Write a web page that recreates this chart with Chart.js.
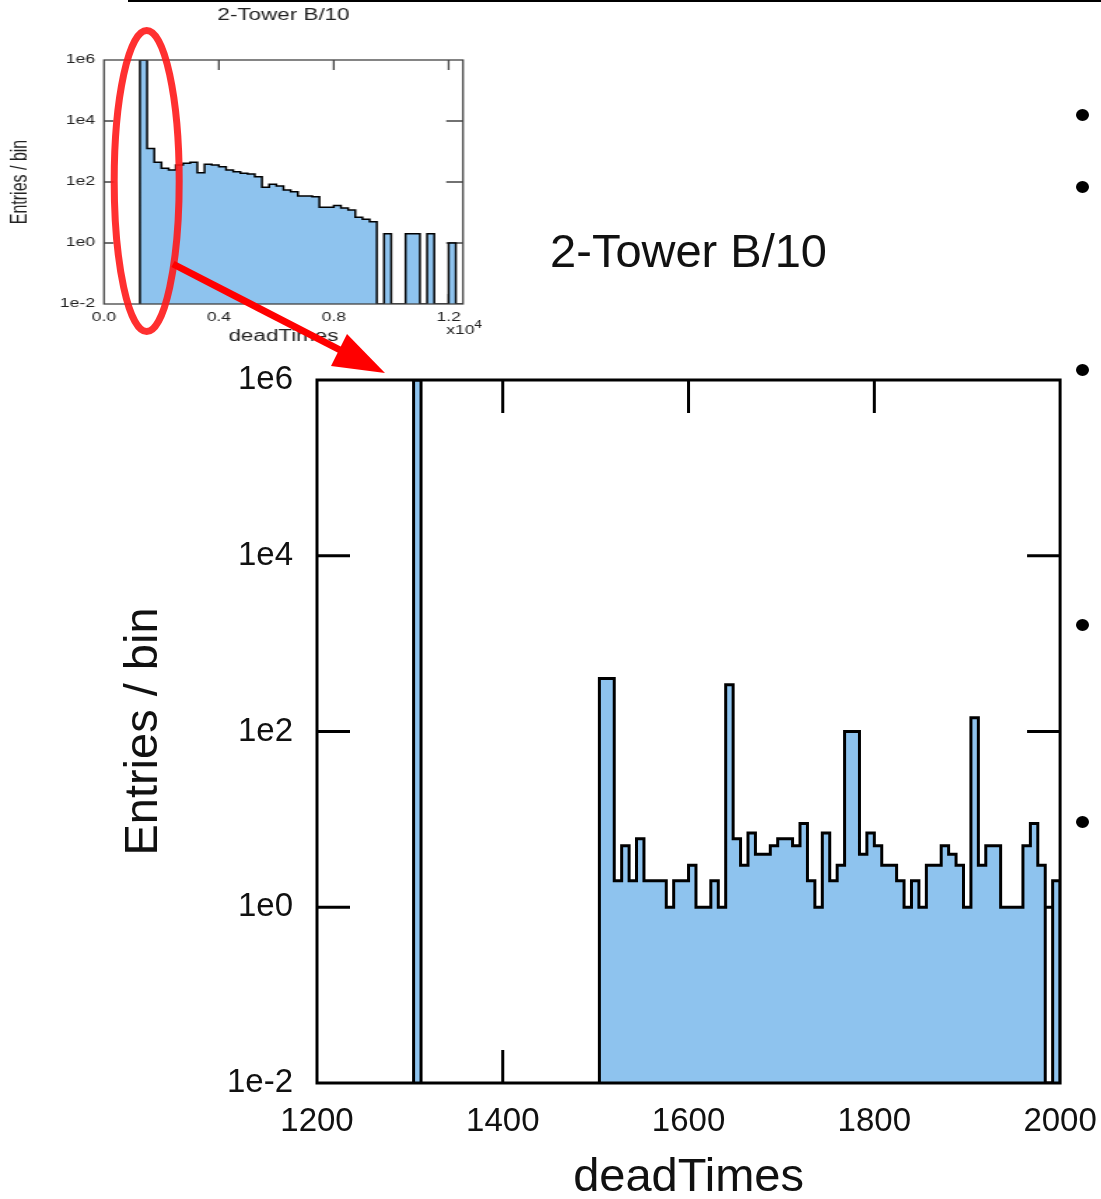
<!DOCTYPE html>
<html>
<head>
<meta charset="utf-8">
<script src="https://cdn.jsdelivr.net/npm/chart.js@4.4.1/dist/chart.umd.min.js"></script>
<style>
  html, body { margin: 0; padding: 0; background: #fff; overflow: hidden; }
  body { width: 1101px; height: 1199px; position: relative; }
  #insetBox { position: absolute; left: 0; top: 0; width: 360px; height: 350px; transform: scaleX(1.4); transform-origin: 0 0; }
  #mainBox { position: absolute; left: 0; top: 200px; width: 1116px; height: 1020px; }
  #marks { position: absolute; left: 0; top: 0; pointer-events: none; }
</style>
</head>
<body>
<div id="insetBox"><canvas id="insetChart"></canvas></div>
<div id="mainBox"><canvas id="mainChart"></canvas></div>
<svg id="marks" width="1101" height="1199">
  <line x1="128" y1="1" x2="1101" y2="1" stroke="#000" stroke-width="2"/>
  <ellipse cx="146.7" cy="181" rx="32.5" ry="150.5" fill="none" stroke="#ff1a1a" stroke-opacity="0.9" stroke-width="7"/>
  <line x1="173" y1="264" x2="342" y2="351" stroke="#ff0000" stroke-width="7"/>
  <polygon points="385,373 331,366 347,334" fill="#ff0000"/>
  <g fill="#000">
    <ellipse cx="1082.5" cy="115" rx="6.5" ry="6"/>
    <ellipse cx="1082.5" cy="187" rx="6.5" ry="6"/>
    <ellipse cx="1082.5" cy="370" rx="6.5" ry="6"/>
    <ellipse cx="1082.5" cy="625" rx="6.5" ry="6"/>
    <ellipse cx="1082.5" cy="822" rx="6.5" ry="6"/>
  </g>
</svg>
<script>
// full range (inset), bins of 250
const insetStart = 1250;
const insetWidth = 250;
const insetCounts = [1e6, 1260, 440, 280, 247, 360, 410, 440, 200, 380, 360, 316, 247, 218, 192,
  183, 149, 67, 84, 74, 55, 48, 35, 35, 33, 15, 15, 17, 14, 12, 7, 6, 5,
  0, 2, 0, 0, 2, 2, 0, 2, 0, 0, 1, 0];
const insetXTicks = [0, 4000, 8000, 12000];

// zoomed range, bins of 8
const spikeStart = 1304;
const spikeCounts = [1e6];
const zoomStart = 1504;
const zoomWidth = 8;
const zoomCounts = [400, 400, 2, 5, 2, 6, 2, 2, 2, 1, 2, 2, 3, 1, 1, 2, 1, 340, 6, 3,
  7, 4, 4, 5, 6, 6, 5, 9, 2, 1, 7, 2, 3, 100, 100, 4, 7, 5, 3, 3,
  2, 1, 2, 1, 3, 3, 5, 4, 3, 1, 143, 3, 5, 5, 1, 1, 1, 5, 9, 3,
  0, 2];
const zoomXTicks = [1200, 1400, 1600, 1800, 2000];

const yTicks = [1e-2, 1, 1e2, 1e4, 1e6];
const yMarks = [1, 1e2, 1e4];

const FONT = '"Liberation Sans", Arial, Helvetica, sans-serif';
const BLUE = '#8ec3ee';
const FLOOR = 0.01;

function histDataset(start, width, counts, lw) {
  const pts = [{x: start, y: FLOOR}];
  counts.forEach((c, i) => pts.push({x: start + i * width, y: c > 0 ? c : FLOOR}));
  pts.push({x: start + counts.length * width, y: FLOOR});
  return {
    data: pts,
    stepped: true,
    borderColor: '#000',
    borderWidth: lw,
    backgroundColor: BLUE,
    fill: 'start',
    pointRadius: 0,
    borderJoinStyle: 'miter'
  };
}

function framePlugin(o) {
  return {
    id: 'frame',
    beforeDatasetsDraw(chart) {
      const {ctx, chartArea: a, scales: {x, y}} = chart;
      ctx.save();
      ctx.strokeStyle = o.color;
      ctx.lineWidth = o.tickWidth;
      ctx.beginPath();
      o.xMarks.forEach(v => {
        const px = x.getPixelForValue(v);
        ctx.moveTo(px, a.top); ctx.lineTo(px, a.top + o.tlen);
        ctx.moveTo(px, a.bottom); ctx.lineTo(px, a.bottom - o.tlen);
      });
      yMarks.forEach(v => {
        const py = y.getPixelForValue(v);
        ctx.moveTo(a.left, py); ctx.lineTo(a.left + o.llen, py);
        ctx.moveTo(a.right, py); ctx.lineTo(a.right - o.rlen, py);
      });
      ctx.stroke();
      ctx.restore();
    },
    afterDatasetsDraw(chart) {
      const {ctx, chartArea: a} = chart;
      ctx.save();
      ctx.strokeStyle = o.color;
      ctx.lineWidth = o.frameWidth;
      ctx.strokeRect(a.left, a.top, a.right - a.left, a.bottom - a.top);
      ctx.restore();
    }
  };
}

const expLabel = v => '1e' + Math.round(Math.log10(v));

// inset
new Chart(document.getElementById('insetChart'), {
  type: 'line',
  data: { datasets: [histDataset(insetStart, insetWidth, insetCounts, 1.5)] },
  options: {
    responsive: true,
    maintainAspectRatio: false,
    animation: false,
    layout: { padding: { left: 0, right: 29.3, top: 0, bottom: 0 } },
    plugins: {
      legend: { display: false },
      tooltip: { enabled: false },
      title: {
        display: true, text: '2-Tower B/10', fullSize: false,
        font: { size: 16, family: FONT, weight: 'normal' }, color: '#222',
        padding: { top: 6.4, bottom: 34.4 }
      }
    },
    scales: {
      x: {
        type: 'linear', min: 0, max: 12500,
        afterBuildTicks: s => { s.ticks = insetXTicks.map(v => ({value: v})); },
        afterFit: s => { s.height = 46; },
        grid: { display: false, drawTicks: false },
        border: { display: false },
        ticks: { padding: 6.5, maxRotation: 0, autoSkip: false, font: { size: 12.5, family: FONT }, color: '#222',
          callback: v => (v / 1e4).toFixed(1) },
        title: { display: true, text: 'deadTimes', font: { size: 16, family: FONT }, color: '#222', padding: { top: 0, bottom: 3.4 } }
      },
      y: {
        type: 'logarithmic', min: 0.01, max: 1e6,
        afterBuildTicks: s => { s.ticks = yTicks.map(v => ({value: v})); },
        afterFit: s => { s.width = 74.29; },
        grid: { display: false, drawTicks: false },
        border: { display: false },
        ticks: { padding: 6.4, autoSkip: false, font: { size: 12.5, family: FONT }, color: '#222', callback: expLabel },
        title: { display: true, text: 'Entries / bin', font: { size: 16, family: FONT }, color: '#222', padding: { top: 5.4, bottom: 0 } }
      }
    }
  },
  plugins: [
    framePlugin({ xMarks: [4000, 8000, 12000], color: '#444', tickWidth: 1.3, frameWidth: 1.3, tlen: 10, llen: 7, rlen: 12 }),
    {
      id: 'power',
      afterDraw(chart) {
        const {ctx, chartArea: a} = chart;
        ctx.save();
        ctx.fillStyle = '#222';
        ctx.textAlign = 'left';
        ctx.textBaseline = 'alphabetic';
        ctx.font = '12.5px ' + FONT;
        const x0 = a.right - 12;
        ctx.fillText('x10', x0, 334);
        const w = ctx.measureText('x10').width;
        ctx.font = '10px ' + FONT;
        ctx.fillText('4', x0 + w, 328);
        ctx.restore();
      }
    }
  ]
});

// zoomed view
new Chart(document.getElementById('mainChart'), {
  type: 'line',
  data: { datasets: [
    histDataset(spikeStart, zoomWidth, spikeCounts, 3),
    histDataset(zoomStart, zoomWidth, zoomCounts, 3)
  ] },
  options: {
    responsive: true,
    maintainAspectRatio: false,
    animation: false,
    layout: { padding: { left: 100, right: 41, top: 0, bottom: 0 } },
    plugins: {
      legend: { display: false },
      tooltip: { enabled: false },
      title: {
        display: true, text: '2-Tower B/10', fullSize: false,
        font: { size: 47, family: FONT, weight: 'normal' }, color: '#111',
        padding: { top: 25.8, bottom: 97.8 }
      }
    },
    scales: {
      x: {
        type: 'linear', min: 1200, max: 2000,
        afterBuildTicks: s => { s.ticks = zoomXTicks.map(v => ({value: v})); },
        afterFit: s => { s.height = 137; },
        grid: { display: false, drawTicks: false },
        border: { display: false },
        ticks: { padding: 19.2, maxRotation: 0, autoSkip: false, font: { size: 33, family: FONT }, color: '#111',
          callback: v => String(v) },
        title: { display: true, text: 'deadTimes', font: { size: 47, family: FONT }, color: '#111', padding: { top: 0, bottom: 13.8 } }
      },
      y: {
        type: 'logarithmic', min: 0.01, max: 1e6,
        afterBuildTicks: s => { s.ticks = yTicks.map(v => ({value: v})); },
        afterFit: s => { s.width = 217; },
        grid: { display: false, drawTicks: false },
        border: { display: false },
        ticks: { padding: 24, autoSkip: false, font: { size: 33, family: FONT }, color: '#111', callback: expLabel },
        title: { display: true, text: 'Entries / bin', font: { size: 47, family: FONT }, color: '#111', padding: { top: 15.8, bottom: 0 } }
      }
    }
  },
  plugins: [
    framePlugin({ xMarks: [1400, 1600, 1800], color: '#000', tickWidth: 3, frameWidth: 3, tlen: 33, llen: 33, rlen: 33 })
  ]
});
</script>
</body>
</html>
